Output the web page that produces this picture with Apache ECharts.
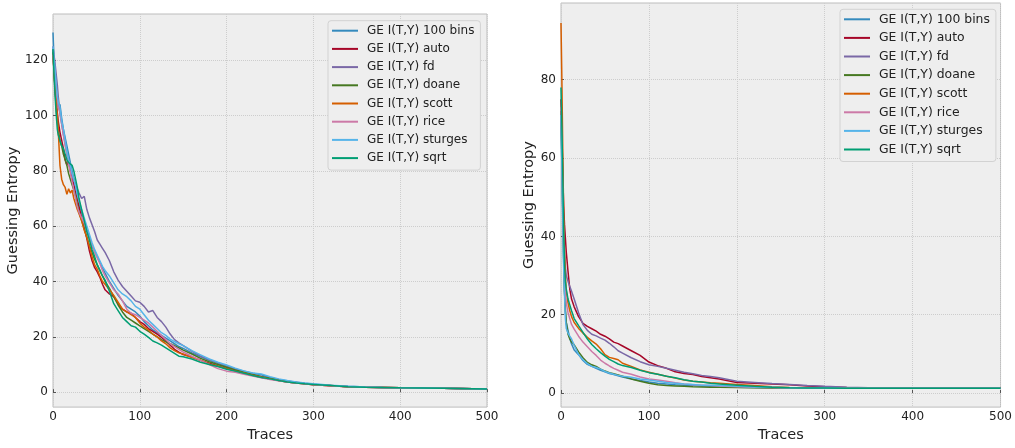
<!DOCTYPE html>
<html>
<head>
<meta charset="utf-8">
<title>Guessing Entropy</title>
<script src="https://cdn.jsdelivr.net/npm/echarts@6/dist/echarts.min.js"></script>
<style>
  html, body { margin: 0; padding: 0; background: #ffffff; }
  #chart { width: 1015px; height: 448px; }
</style>
</head>
<body>
<div id="chart"></div>
<script>
// Trace counts at which guessing entropy was sampled
const tracesLeft = [0, 1, 2, 3, 4, 5, 6,
  8, 10, 12, 14, 16, 18, 20, 22, 24, 26, 28, 30,
  33, 36, 39, 42, 45, 48, 51, 54, 57, 60,
  65, 70, 75, 80, 85, 90, 95, 100, 105, 110, 115, 120, 125, 130, 135, 140, 145, 150,
  160, 170, 180, 190, 200, 210, 220, 230, 240, 250, 260, 270, 280, 290, 300,
  320, 340, 360, 380, 400,
  450, 500];

const tracesRight = [0, 1, 2, 3, 4, 5, 6,
  8, 10, 12, 15,
  20, 25, 30, 35, 40, 45, 50, 55, 60, 65, 70,
  80, 90, 100, 110, 120, 130, 140, 150, 160, 170, 180,
  200, 220, 240, 260, 280, 300,
  325, 350, 375, 400,
  450, 500];

const seriesNames = ['GE I(T,Y) 100 bins', 'GE I(T,Y) auto', 'GE I(T,Y) fd', 'GE I(T,Y) doane',
  'GE I(T,Y) scott', 'GE I(T,Y) rice', 'GE I(T,Y) sturges', 'GE I(T,Y) sqrt'];
const seriesColors = ['#348ABD', '#A60628', '#7A68A6', '#467821', '#D55E00', '#CC79A7', '#56B4E9', '#009E73'];

// Left panel
const left100bins = [130, 122, 116, 112, 108, 105, 103,
  104, 99, 95, 92, 89, 86, 83, 80, 77, 74, 71, 68.5,
  65, 62, 59, 56, 53, 51, 49, 47, 45, 43,
  40, 37.5, 35, 33, 31, 30, 29, 27.5, 25.5, 24, 22.5, 21.5, 20.5, 19.5, 18.5, 17.5, 16.5, 15.8,
  14.2, 12.8, 11.5, 10.4, 9.4, 8.4, 7.6, 6.8, 6.3, 5.3, 4.6, 4.0, 3.6, 3.2, 2.9,
  2.4, 2.1, 1.85, 1.7, 1.6,
  1.4, 1.15];
const leftAuto = [124, 117, 112, 107, 104, 101, 98,
  94, 91, 88, 84, 82, 84, 80, 77, 75, 72, 70, 67,
  63, 59.5, 55.5, 51, 47.5, 45, 43.5, 41.5, 39, 37,
  35.5, 34.5, 32, 30, 29, 28.5, 27, 25.5, 24.5, 23, 22, 21, 19.8, 18.5, 17, 15.5, 14.5, 13.6,
  12.7, 11.5, 10.5, 9.5, 8.6, 7.7, 6.9, 6.1, 5.4, 4.8, 4.2, 3.7, 3.3, 3.0, 2.7,
  2.3, 2.0, 1.8, 1.7, 1.6,
  1.4, 1.1];
const leftFd = [125, 122, 120, 117, 114, 111, 107,
  101, 97, 93, 90, 86, 84, 81, 79, 77, 75, 73.5, 72,
  70, 70.8, 66, 63, 60.5, 58, 55, 53.5, 52, 50.5,
  47.5, 43.5, 40.5, 38.2, 36.5, 34.8, 33, 32.5, 31, 29, 29.5, 27, 25.5, 23.5, 21, 19, 17.8, 16.8,
  14.8, 13, 11.8, 10.5, 9.2, 8.2, 7.3, 6.4, 5.7, 5.0, 4.4, 3.9, 3.5, 3.1, 2.8,
  2.4, 2.0, 1.8, 1.7, 1.6,
  1.4, 1.1];
const leftDoane = [123, 117, 111, 106, 101, 98, 95,
  91, 89, 86, 84, 82, 79, 77, 75, 73, 71, 68, 65,
  62, 59, 56, 53, 50.5, 48, 46, 44, 42, 40,
  37.5, 34.5, 31.5, 29, 27, 26, 25, 24, 23, 22, 21, 20, 19, 18.2, 17.5, 16.8, 16, 15.2,
  13.8, 12.2, 11, 10, 9, 8, 7.2, 6.4, 5.6, 5.0, 4.4, 3.9, 3.5, 3.1, 2.8,
  2.4, 2.0, 1.8, 1.7, 1.6,
  1.4, 1.1];
const leftScott = [122, 117, 112, 108, 104, 100, 95,
  82, 77, 75, 74, 71.5, 73.5, 72, 73, 70, 68, 66, 64.5,
  62, 58.5, 56, 52.5, 49, 46, 44.5, 42, 40, 39,
  37, 35, 32.5, 30, 29, 28, 27, 25, 23.5, 22.5, 21, 20, 18.5, 17.5, 16, 15, 14.2, 13.8,
  12.5, 11.6, 10.2, 9.4, 8.5, 7.6, 6.9, 6.1, 5.4, 4.8, 4.2, 3.7, 3.3, 3.0, 2.7,
  2.3, 2.0, 1.8, 1.7, 1.6,
  1.4, 1.1];
const leftRice = [122, 118, 115, 112, 109, 106, 103,
  101, 97, 93, 89, 86, 82, 79.5, 76, 73, 70, 67, 65,
  63, 61, 58, 55.5, 53, 50.5, 48.5, 46.5, 44, 42,
  39.5, 37, 35.5, 33, 30, 28.5, 28, 27, 26, 25, 23.5, 22, 20.5, 19, 17.5, 16.5, 15.5, 14.5,
  13, 11.5, 10, 8.5, 7.6, 7.2, 6.5, 5.8, 5.2, 4.6, 4.1, 3.7, 3.3, 3.0, 2.7,
  2.3, 2.0, 1.8, 1.7, 1.6,
  1.4, 1.1];
const leftSturges = [125, 121, 118, 114, 110, 107, 105,
  103, 98, 95, 91, 87, 84, 82, 79, 77, 74.5, 71.5, 69,
  66, 63, 60, 57, 54, 51.5, 49.5, 47.5, 45.5, 44,
  42, 39.5, 37, 35.5, 34.5, 33, 31, 30, 28, 26, 24.5, 23, 21.5, 20.5, 19.2, 18.3, 17.5, 16.8,
  15, 13.5, 12, 10.8, 9.8, 8.7, 7.7, 6.9, 6.6, 5.6, 4.8, 4.2, 3.7, 3.3, 3.0,
  2.5, 2.1, 1.85, 1.7, 1.6,
  1.4, 1.15];
const leftSqrt = [124, 116, 110, 104, 99, 95, 93,
  91, 89, 88, 86, 84, 83, 82.5, 82, 80, 77, 74, 70,
  66, 62, 58, 55, 51.5, 49, 46, 44, 42, 40.5,
  36.5, 32, 29.5, 27, 25.5, 24, 23.5, 22, 21, 19.8, 18.5, 17.8, 17, 16, 15, 14, 13, 12.8,
  12, 10.8, 10, 9.3, 8.3, 7.6, 6.8, 6.0, 5.3, 4.8, 4.2, 3.7, 3.3, 3.0, 2.8,
  2.4, 2.0, 1.8, 1.7, 1.6,
  1.4, 1.1];

// Right panel
const right100bins = [70, 58, 46, 34, 26, 21, 18,
  16, 14, 12.5, 11,
  9.8, 8.3, 7.3, 6.8, 6.3, 5.8, 5.4, 5.0, 4.7, 4.4, 4.1,
  3.6, 3.2, 2.8, 2.5, 2.3, 2.1, 2.0, 1.9, 1.8, 1.7, 1.6,
  1.5, 1.4, 1.35, 1.3, 1.25, 1.2,
  1.2, 1.2, 1.2, 1.2,
  1.2, 1.2];
const rightAuto = [75, 66, 56, 48, 43, 39.5, 36,
  31, 26.5, 24, 22,
  19.5, 17.8, 17, 16.4, 15.8, 15, 14.5, 13.8, 13, 12.6, 12,
  10.8, 9.6, 7.9, 7, 6.3, 5.4, 5.0, 4.7, 4.2, 3.9, 3.6,
  2.7, 2.5, 2.3, 2.1, 1.8, 1.6,
  1.4, 1.3, 1.25, 1.2,
  1.2, 1.2];
const rightFd = [72, 63, 52, 42, 36, 32, 30,
  28.5, 28, 26, 24,
  20.5, 17.5, 16, 15, 14.6, 14, 13.5, 12.7, 11.8, 10.8, 10.2,
  9, 8, 7.2, 6.8, 6.3, 5.8, 5.3, 4.9, 4.5, 4.2, 3.9,
  3.0, 2.7, 2.4, 2.2, 1.9, 1.7,
  1.5, 1.35, 1.25, 1.2,
  1.2, 1.2];
const rightDoane = [72, 60, 47, 35, 26, 21, 18,
  15, 13.8, 13, 12.3,
  10.5, 9, 7.8, 7.2, 6.8, 6.1, 5.6, 5.2, 4.9, 4.6, 4.3,
  3.6, 3.0, 2.5, 2.1, 1.9, 1.8, 1.7, 1.6, 1.55, 1.5, 1.45,
  1.4, 1.35, 1.3, 1.25, 1.2, 1.2,
  1.2, 1.2, 1.2, 1.2,
  1.2, 1.2];
const rightScott = [94.5, 80, 62, 46, 36, 30, 26,
  23, 21, 19.5, 18,
  16.5, 15.3, 14.2, 13.3, 12.5, 11.3, 9.8, 9.1, 8.8, 8.5, 7.6,
  6.8, 5.9, 5.3, 4.8, 4.3, 3.8, 3.3, 3.0, 2.8, 2.6, 2.5,
  2.2, 1.9, 1.6, 1.4, 1.3, 1.25,
  1.2, 1.2, 1.2, 1.2,
  1.2, 1.2];
const rightRice = [73, 62, 50, 38, 30, 26, 23,
  20.5, 19, 17.5, 16.3,
  14.5, 13, 11.8, 10.6, 9.6, 8.4, 7.6, 6.9, 6.3, 5.8, 5.3,
  4.8, 4.1, 3.6, 3.3, 3.0, 2.6, 2.3, 2.1, 2.0, 1.9, 1.8,
  1.6, 1.5, 1.4, 1.3, 1.25, 1.2,
  1.2, 1.2, 1.2, 1.2,
  1.2, 1.2];
const rightSturges = [71, 58, 44, 32, 25, 19, 16.5,
  15.3, 14.5, 13.8, 12.2,
  9.8, 8.5, 7.5, 6.8, 6.5, 6.1, 5.5, 5.1, 4.8, 4.5, 4.3,
  4.0, 3.6, 3.3, 3.0, 2.7, 2.5, 2.3, 2.15, 2.0, 1.95, 1.9,
  1.7, 1.55, 1.45, 1.35, 1.3, 1.25,
  1.2, 1.2, 1.2, 1.2,
  1.2, 1.2];
const rightSqrt = [78, 68, 56, 42, 33, 28.5, 26.5,
  24, 22.5, 21, 19,
  17.2, 15.5, 13.8, 12.4, 11.3, 10.3, 9.4, 8.6, 8, 7.4, 7.0,
  6.5, 5.8, 5.2, 4.8, 4.3, 3.9, 3.4, 3.0, 2.8, 2.5, 2.3,
  2.0, 1.7, 1.5, 1.35, 1.3, 1.25,
  1.2, 1.2, 1.2, 1.2,
  1.2, 1.2];

const xTickValues = [0, 100, 200, 300, 400, 500];
const leftYTickValues = [0, 20, 40, 60, 80, 100, 120];
const rightYTickValues = [0, 20, 40, 60, 80];

const leftValues = [left100bins, leftAuto, leftFd, leftDoane, leftScott, leftRice, leftSturges, leftSqrt];
const rightValues = [right100bins, rightAuto, rightFd, rightDoane, rightScott, rightRice, rightSturges, rightSqrt];

const FONT = 'DejaVu Sans';
const TEXT = '#222222';
const GRID_LINE = { show: true, lineStyle: { type: 'dotted', color: '#cdcdcd', width: 1 } };

function pairs(xs, ys) {
  return xs.map(function (x, i) { return [x, ys[i]]; });
}

function xAxisFor(gridIndex) {
  return {
    type: 'value', gridIndex: gridIndex, min: 0, max: 500, interval: 100,
    axisLine: { show: false },
    axisTick: { show: true, inside: true, length: 3, lineStyle: { color: '#555555' }, customValues: xTickValues },
    axisLabel: { margin: 4, fontFamily: FONT, fontSize: 12, color: TEXT, customValues: xTickValues },
    splitLine: GRID_LINE,
    name: 'Traces', nameLocation: 'middle', nameGap: 17,
    nameTextStyle: { fontFamily: FONT, fontSize: 14.5, color: TEXT }
  };
}

function yAxisFor(gridIndex, lo, hi, splitNumber, ticks, nameGap) {
  return {
    type: 'value', gridIndex: gridIndex, min: lo, max: hi, splitNumber: splitNumber,
    axisLine: { show: false },
    axisTick: { show: true, inside: true, length: 3, lineStyle: { color: '#555555' }, customValues: ticks },
    axisLabel: { margin: 5, fontFamily: FONT, fontSize: 12, color: TEXT, customValues: ticks },
    splitLine: GRID_LINE,
    name: 'Guessing Entropy', nameLocation: 'middle', nameGap: nameGap,
    nameTextStyle: { fontFamily: FONT, fontSize: 14.5, color: TEXT }
  };
}

function legendFor(left, top, gap, fontSize) {
  return {
    orient: 'vertical', left: left, top: top,
    data: seriesNames, icon: 'rect', itemWidth: 26, itemHeight: 2, itemGap: gap,
    padding: [3, 6, 5, 4],
    backgroundColor: '#eeeeee', borderColor: '#d2d2d2', borderWidth: 1, borderRadius: 3,
    selectedMode: false,
    textStyle: { fontFamily: FONT, fontSize: fontSize, color: TEXT, lineHeight: 14, padding: [0, 0, 0, 4] }
  };
}

const series = [];
seriesNames.forEach(function (name, i) {
  [[0, tracesLeft, leftValues[i]], [1, tracesRight, rightValues[i]]].forEach(function (p) {
    series.push({
      type: 'line', name: name, xAxisIndex: p[0], yAxisIndex: p[0],
      data: pairs(p[1], p[2]), showSymbol: false, symbol: 'none',
      lineStyle: { color: seriesColors[i], width: 1.5 },
      itemStyle: { color: seriesColors[i] },
      emphasis: { disabled: true }
    });
  });
});

const chart = echarts.init(document.getElementById('chart'), null, { renderer: 'canvas' });
chart.setOption({
  animation: false,
  backgroundColor: '#ffffff',
  grid: [
    { left: 53, top: 14, width: 434, height: 398, show: true, backgroundColor: '#eeeeee', borderColor: '#bcbcbc', borderWidth: 1, containLabel: false },
    { left: 561, top: 3, width: 441, height: 407, show: true, backgroundColor: '#eeeeee', borderColor: '#bcbcbc', borderWidth: 1, containLabel: false }
  ],
  xAxis: [xAxisFor(0), xAxisFor(1)],
  yAxis: [
    yAxisFor(0, -5.4, 136.7, 7, leftYTickValues, 30),
    yAxisFor(1, -3.6, 99.6, 5, rightYTickValues, 24)
  ],
  legend: [legendFor(328, 20.7, 4.2, 12), legendFor(840, 9.3, 4.6, 12.4)],
  series: series
});
</script>
</body>
</html>
